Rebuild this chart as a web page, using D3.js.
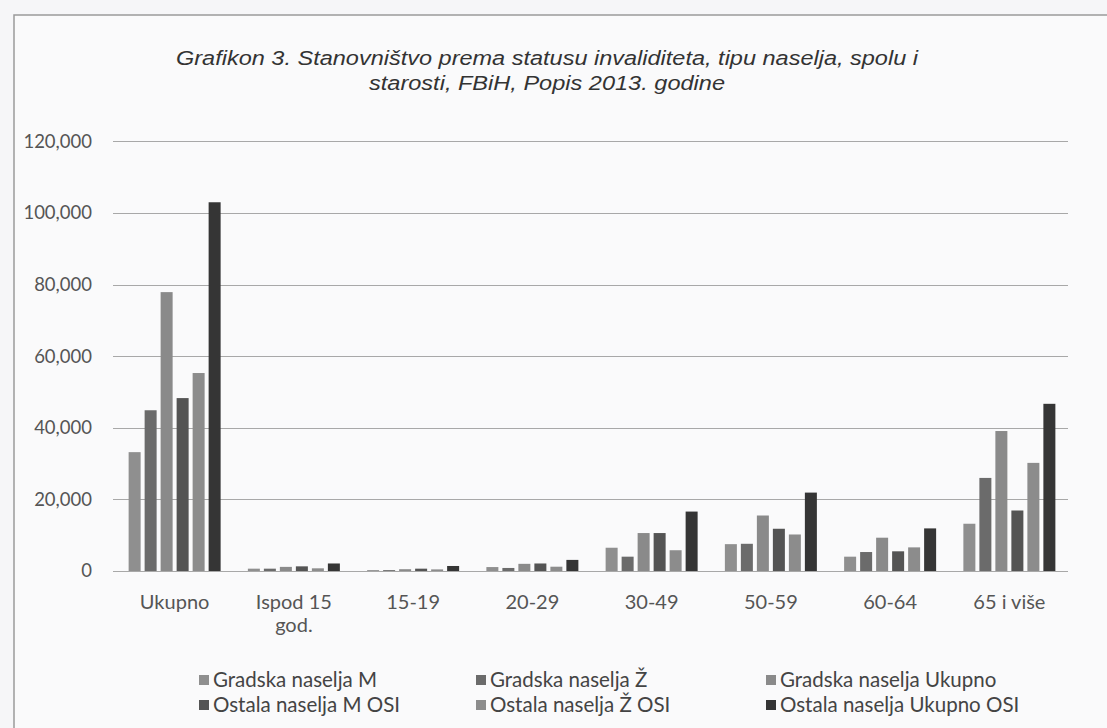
<!DOCTYPE html>
<html>
<head>
<meta charset="utf-8">
<script src="https://cdn.jsdelivr.net/npm/d3@7"></script>
<style>
  html, body { margin: 0; padding: 0; background: #f6f6f8; }
  svg { display: block; }
</style>
</head>
<body>
<div id="chart"></div>
<script>
// chart data
var categories = ["Ukupno", "Ispod 15\ngod.", "15-19", "20-29", "30-49", "50-59", "60-64", "65 i  više"];
var seriesNames = ["Gradska naselja M", "Gradska naselja Ž", "Gradska naselja Ukupno",
                   "Ostala naselja M OSI", "Ostala naselja Ž OSI", "Ostala naselja Ukupno OSI"];
var gradskaM   = [33200,  650,  250,  1100,  6500,  7500,  4000, 13200];
var gradskaZ   = [44900,  650,  250,   850,  4000,  7600,  5300, 26000];
var gradskaUk  = [77900, 1150,  500,  2000, 10600, 15500,  9300, 39100];
var ostalaM    = [48300, 1300,  650,  2100, 10600, 11800,  5500, 16900];
var ostalaZ    = [55300,  750,  450,  1200,  5800, 10200,  6600, 30200];
var ostalaUk   = [103000, 2100, 1400, 3100, 16600, 21900, 11900, 46700];
var yTicks = [0, 20000, 40000, 60000, 80000, 100000, 120000];
var titleLines = ["Grafikon 3. Stanovništvo prema statusu invaliditeta, tipu naselja, spolu i",
                  "starosti, FBiH, Popis 2013. godine"];

var seriesValues = [gradskaM, gradskaZ, gradskaUk, ostalaM, ostalaZ, ostalaUk];
var colors = ["#8f8f8f", "#6b6b6b", "#8a8a8a", "#545454", "#8c8c8c", "#353535"];

var width = 1107, height = 728;
var svg = d3.select("#chart").append("svg")
	.attr("width", width)
	.attr("height", height);

// page + frame
svg.append("rect").attr("x", 0).attr("y", 0).attr("width", width).attr("height", height)
	.attr("fill", "#f6f6f8");
svg.append("rect").attr("x", 14).attr("y", 15).attr("width", width + 20).attr("height", height + 20)
	.attr("fill", "#fafafb").attr("stroke", "#9a9a9a").attr("stroke-width", 1.5);

// title
svg.selectAll("text.title").data(titleLines).enter().append("text")
	.attr("class", "title")
	.attr("x", 547)
	.attr("y", function(d, i){return 65 + i*25})
	.attr("text-anchor", "middle")
	.attr("font-family", "'Liberation Sans', Arial, sans-serif")
	.attr("font-style", "italic")
	.attr("font-size", "20px")
	.attr("fill", "#333")
	.attr("textLength", function(d, i){return i == 0 ? 742 : 356})
	.attr("lengthAdjust", "spacingAndGlyphs")
	.text(function(d){return d});

var plotL = 115, plotR = 1069;
var y = d3.scaleLinear().domain([0, 120000]).range([571, 141.4]);
var x0 = d3.scaleBand().domain(categories).range([plotL, plotR]);
var x1 = d3.scaleBand().domain(d3.range(seriesNames.length)).range([-46, 46]).paddingInner(0.25);

var font = "Lato, 'Open Sans', sans-serif";

// gridlines
svg.append("g").selectAll("line").data(yTicks).enter().append("line")
	.attr("x1", 113).attr("x2", 1068)
	.attr("y1", function(d){return Math.round(y(d)) + 0.5})
	.attr("y2", function(d){return Math.round(y(d)) + 0.5})
	.attr("stroke", "#a8a8a8").attr("stroke-width", 1.2);

// y labels
var yAxis = svg.append("g").attr("transform", "translate(92,0)")
	.call(d3.axisLeft(y).tickValues(yTicks).tickFormat(d3.format(",")).tickSize(0).tickPadding(0));
yAxis.select(".domain").remove();
yAxis.selectAll("text")
	.attr("font-family", font).attr("font-size", "18.5px").attr("fill", "#555");

// bars
var groups = svg.append("g").selectAll("g").data(categories).enter().append("g")
	.attr("transform", function(d){return "translate(" + (x0(d) + x0.bandwidth()/2) + ",0)"});
groups.selectAll("rect")
	.data(function(d, ci){return seriesValues.map(function(s, si){return {s: si, v: s[ci]}})})
	.enter().append("rect")
	.attr("x", function(d){return x1(d.s)})
	.attr("width", x1.bandwidth())
	.attr("y", function(d){return y(d.v)})
	.attr("height", function(d){return y(0) - y(d.v)})
	.attr("fill", function(d){return colors[d.s]});

// x labels
var xl = groups.append("text")
	.attr("text-anchor", "middle")
	.attr("font-family", font).attr("font-size", "20px").attr("fill", "#555");
xl.selectAll("tspan").data(function(d){return d.split("\n")}).enter().append("tspan")
	.attr("x", 0)
	.attr("y", function(d, i){return 609 + i*23})
	.text(function(d){return d});

// legend
var legX = [213, 490, 780];
var leg = svg.append("g").selectAll("g").data(seriesNames).enter().append("g")
	.attr("transform", function(d, i){return "translate(" + legX[i%3] + "," + (680 + Math.floor(i/3)*25) + ")"});
leg.append("rect")
	.attr("x", -14).attr("y", -5).attr("width", 10).attr("height", 10)
	.attr("fill", function(d, i){return colors[i]});
leg.append("text")
	.attr("x", 0).attr("y", 7)
	.attr("font-family", font).attr("font-size", "20.5px").attr("fill", "#444")
	.text(function(d){return d});
</script>
</body>
</html>
